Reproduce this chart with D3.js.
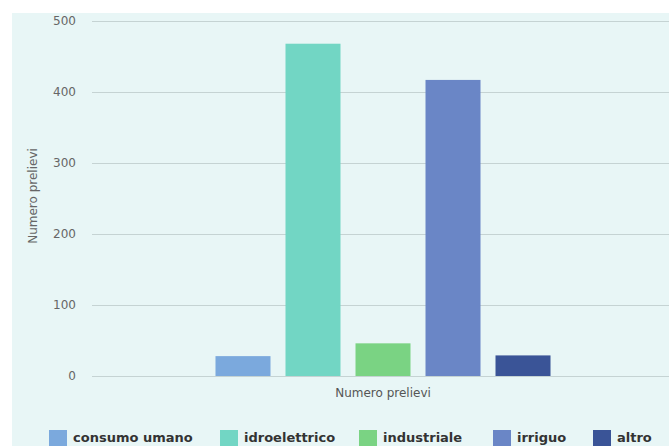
<!DOCTYPE html>
<html><head><meta charset="utf-8">
<script src="https://cdn.jsdelivr.net/npm/d3@7"></script>
<style>html,body{margin:0;padding:0;background:#fff;overflow:hidden}</style>
</head><body>
<svg id="c" width="669" height="446"></svg>
<script>
const categories = ["Numero prelievi"];
const seriesNames = ["consumo umano","idroelettrico","industriale","irriguo","altro"];
const seriesValues = [28, 468, 46, 417, 29];
const seriesColors = ["#7ba9dd","#72d6c4","#7ad383","#6a86c6","#3a5497"];
const yTicks = [0,100,200,300,400,500];
const yTitle = "Numero prelievi";

(function(){
const svg = d3.select("#c");
const font = "DejaVu Sans, sans-serif";
svg.append("rect").attr("x",12).attr("y",13).attr("width",700).attr("height",460).attr("fill","#e8f6f6");

const pl = 92, pr = 674, pt = 21, pb = 376;
const y = d3.scaleLinear().domain([0,500]).range([pb, pt]);
const x0 = d3.scaleBand().domain(categories).range([pl, pr]).paddingInner(0).paddingOuter(0);
const x1 = d3.scaleBand().domain(seriesNames).range([0, x0.bandwidth()]).paddingInner(0.2143).paddingOuter(1.764);

const yAxis = d3.axisLeft(y).tickValues(yTicks).tickSize(-(pr-pl)).tickPadding(16);
const gy = svg.append("g").attr("transform",`translate(${pl},0)`).call(yAxis);
gy.select(".domain").remove();
gy.selectAll(".tick line").attr("stroke","#c5d3d3").attr("stroke-width",1);
gy.selectAll(".tick text").attr("fill","#666").style("font-family",font).style("font-size","12px");

svg.append("text").attr("transform",`translate(37,196) rotate(-90)`)
  .attr("text-anchor","middle").attr("fill","#666").style("font-family",font).style("font-size","12px").text(yTitle);

const g = svg.append("g");
categories.forEach(cat => {
  g.selectAll("rect.bar").data(seriesNames).enter().append("rect")
    .attr("x", d => x0(cat) + x1(d))
    .attr("y", (d,i) => y(seriesValues[i]))
    .attr("width", x1.bandwidth())
    .attr("height", (d,i) => y(0) - y(seriesValues[i]))
    .attr("fill", (d,i) => seriesColors[i]);
});

const xAxis = d3.axisBottom(x0).tickSize(0).tickPadding(12);
const gx = svg.append("g").attr("transform",`translate(0,${pb})`).call(xAxis);
gx.select(".domain").attr("stroke","#c5d3d3");
gx.selectAll(".tick text").attr("fill","#555").style("font-family",font).style("font-size","12px");

const legX = [49, 220, 359, 493, 593];
const leg = svg.append("g");
seriesNames.forEach((n,i) => {
  leg.append("rect").attr("x",legX[i]).attr("y",430).attr("width",18).attr("height",18).attr("fill",seriesColors[i]);
  leg.append("text").attr("x",legX[i]+24).attr("y",442).attr("fill","#333")
    .style("font-family",font).style("font-size","13px").style("font-weight","bold").text(n);
});
})();
</script>
</body></html>
